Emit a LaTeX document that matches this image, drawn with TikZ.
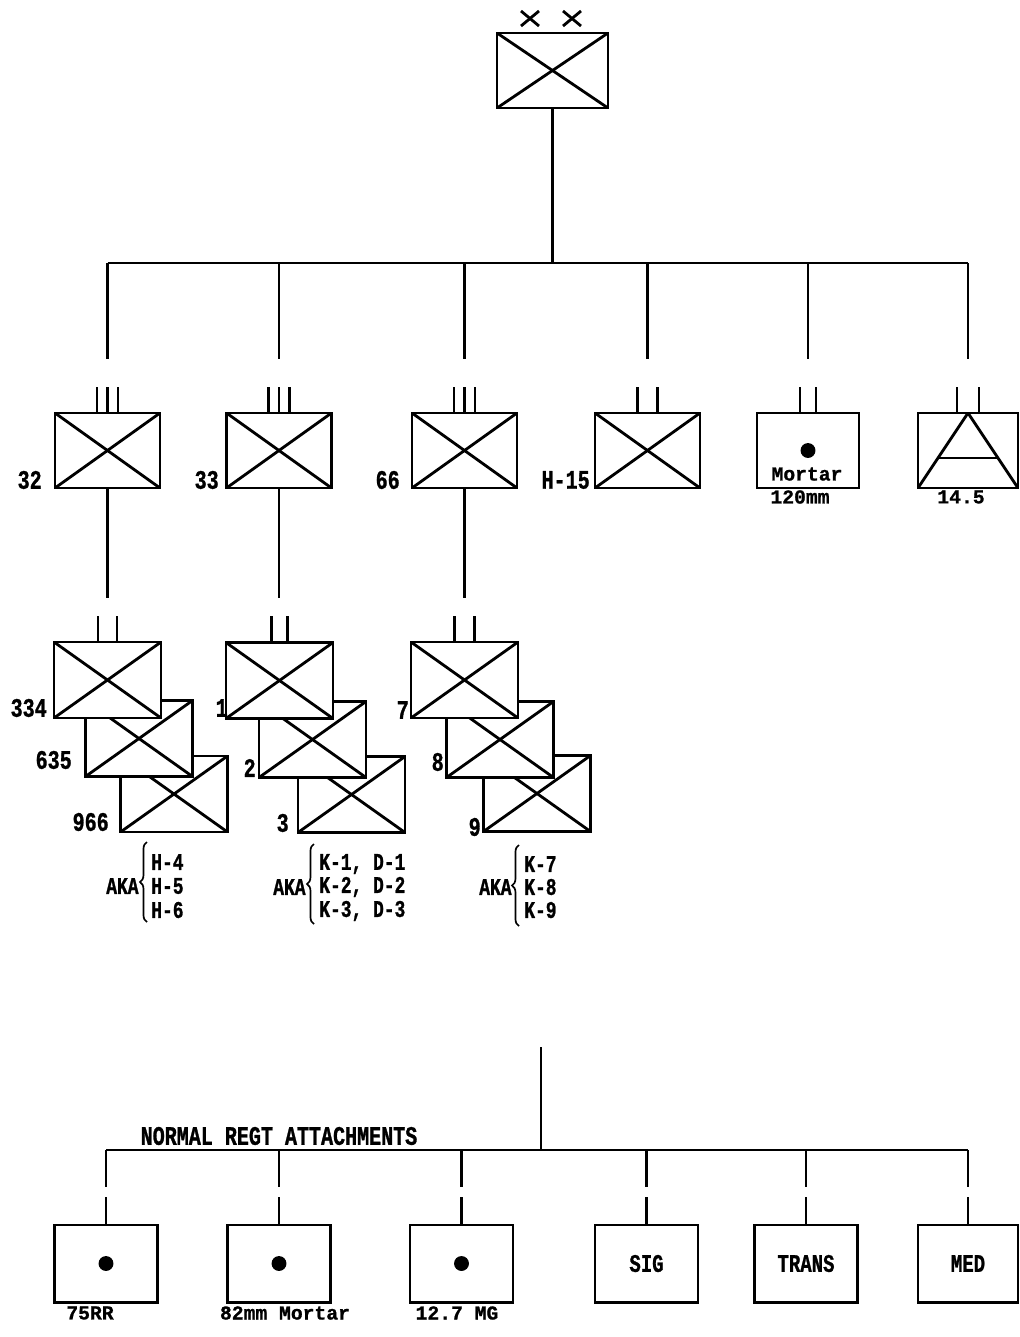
\documentclass[tikz,border=0pt]{standalone}
\usepackage{fontspec}
\newfontfamily\tallfont{Liberation Mono}[FakeStretch=0.75, BoldFeatures={FakeBold=1}]
\newfontfamily\typefont{Liberation Mono}[BoldFeatures={FakeBold=1}]
\usepackage{tikz}
\usetikzlibrary{calc}
\usetikzlibrary{decorations.pathreplacing}

\tikzset{
    unitbox/.style={draw, rectangle, line width=2.1pt, inner sep=0pt, fill=white},
    crossed/.style={path picture={
        \draw[line width=2pt] (path picture bounding box.north west) -- (path picture bounding box.south east);
        \draw[line width=2pt] (path picture bounding box.south west) -- (path picture bounding box.north east);}},
    gun/.style={path picture={\fill[black] (path picture bounding box.center) circle (5.3pt);}},
    aa/.style={path picture={
        \draw[line width=2pt] (path picture bounding box.south west) -- (path picture bounding box.north) -- (path picture bounding box.south east);
        \draw[line width=2pt] ($(path picture bounding box.north)!0.6!(path picture bounding box.south west)$) -- ($(path picture bounding box.north)!0.6!(path picture bounding box.south east)$);}},
    div/.style={unitbox, crossed, minimum width=2.775cm, minimum height=1.875cm},
    regt/.style={unitbox, minimum width=2.625cm, minimum height=1.875cm},
    bn/.style={unitbox, crossed, minimum width=2.675cm, minimum height=1.9cm},
    att/.style={unitbox, minimum width=2.575cm, minimum height=1.925cm, font=\tallfont\bfseries\fontsize{18}{18}\selectfont},
    link/.style={line width=1.8pt},
    echelon/.style={line width=2pt},
    akabrace/.style={decorate, decoration={brace, amplitude=5pt}, line width=1.2pt},
    numlbl/.style={font=\tallfont\bfseries\fontsize{19}{19}\selectfont, inner sep=0pt, anchor=east},
    akalbl/.style={font=\tallfont\bfseries\fontsize{17}{17}\selectfont, inner sep=0pt, anchor=west},
    smlbl/.style={font=\typefont\bfseries\fontsize{14}{14}\selectfont, inner sep=0pt}
}

\begin{document}
\begin{tikzpicture}[x=0.025cm, y=-0.025cm]
        \useasboundingbox (0,0) rectangle (1020,1337);
        \fill[white] (0,0) rectangle (1020,1337);

        % division
        \draw (552.5,70.5) node [div] (div) {};
        \foreach \cx in {530,572} {
            \draw[echelon] (\cx-9,11) -- (\cx+9,26);
            \draw[echelon] (\cx-9,26) -- (\cx+9,11);
        }

        % regiments
        \draw (107.5,450.5) node [regt, crossed] (r32) {};
        \draw (279,450.5) node [regt, crossed] (r33) {};
        \draw (464.5,450.5) node [regt, crossed] (r66) {};
        \draw (647.5,450.5) node [regt, crossed] (rh15) {};
        \draw (808,450.5) node [regt, gun, minimum width=2.55cm] (rmor) {};
        \draw (968,450.5) node [regt, aa, minimum width=2.5cm] (raa) {};

        \draw (42,480) node [numlbl] (l32) {32};
        \draw (219,480) node [numlbl] (l33) {33};
        \draw (400,480) node [numlbl] (l66) {66};
        \draw (590,480) node [numlbl] (lh15) {H-15};
        \draw (807,474) node [smlbl] (lmor) {Mortar};
        \draw (800,497) node [smlbl] (l120) {120mm};
        \draw (961,497) node [smlbl] (laa) {14.5};

        \coordinate (bar) at (552.5,263);
        \draw[link] (div.south) -- (bar);
        \draw[link] (r32.north |- bar) -- (raa.north |- bar);
        \foreach \u in {r32,r33,r66,rh15,rmor,raa}
            \draw[link] (\u.north |- bar) -- ($(\u.north)+(0,-53)$);

        % battalions, back to front
        \draw (174,794) node [bn] (b966) {};
        \draw (139,738.5) node [bn] (b635) {};
        \draw (107.5,680) node [bn] (b334) {};
        \draw (351.5,794.5) node [bn] (b3) {};
        \draw (312.5,739.5) node [bn] (b2) {};
        \draw (279.5,680.5) node [bn] (b1) {};
        \draw (537,793.5) node [bn] (b9) {};
        \draw (500,739.5) node [bn] (b8) {};
        \draw (464.5,680) node [bn] (b7) {};

        \draw (47,708) node [numlbl] (l334) {334};
        \draw (72,760) node [numlbl] (l635) {635};
        \draw (109,822) node [numlbl] (l966) {966};
        \draw (228,708) node [numlbl] (l1) {1};
        \draw (256,768) node [numlbl] (l2) {2};
        \draw (289,823) node [numlbl] (l3) {3};
        \draw (409,710) node [numlbl] (l7) {7};
        \draw (444,762) node [numlbl] (l8) {8};
        \draw (481,827) node [numlbl] (l9) {9};

        \draw[link] (r32.south) -- ($(r32.south |- b334.north)+(0,-43)$);
        \draw[link] (r33.south) -- ($(r33.south |- b1.north)+(0,-43)$);
        \draw[link] (r66.south) -- ($(r66.south |- b7.north)+(0,-43)$);

        % unit size ticks
        \foreach \u in {r32,r33,r66}
            \foreach \dx in {-10.5,0,10.5}
                \draw[echelon] ($(\u.north)+(\dx,0)$) -- ++(0,-25);
        \foreach \u/\dx in {rh15/10,rmor/8,raa/11,b334/9.5,b1/8,b7/10}
            \foreach \s in {-1,1}
                \draw[echelon] ($(\u.north)+(\s*\dx,0)$) -- ++(0,-25);

        % also known as
        \draw (106,886) node [akalbl] (aka1) {AKA};
        \draw[akabrace] (147,922) -- (147,842);
        \draw (151,862) node [akalbl] (h4) {H-4};
        \draw (151,886) node [akalbl] (h5) {H-5};
        \draw (151,910) node [akalbl] (h6) {H-6};
        \draw (273,887) node [akalbl] (aka2) {AKA};
        \draw[akabrace] (314,924) -- (314,844);
        \draw (319,864) node [akalbl] (k1) {K-1, D-1};
        \draw (319,887) node [akalbl] (k2) {K-2, D-2};
        \draw (319,911) node [akalbl] (k3) {K-3, D-3};
        \draw (479,887) node [akalbl] (aka3) {AKA};
        \draw[akabrace] (519,926) -- (519,845);
        \draw (524,864) node [akalbl] (k7) {K-7};
        \draw (524,887) node [akalbl] (k8) {K-8};
        \draw (524,910) node [akalbl] (k9) {K-9};

        % attachments
        \coordinate (atttop) at (541,1047);
        \coordinate (attbar) at (541,1150);
        \draw[link] (atttop) -- (attbar);
        \draw (279,1136) node [numlbl, anchor=center] (attname) {NORMAL REGT ATTACHMENTS};

        \draw (106,1263.5) node [att, gun] (a75) {};
        \draw (279,1263.5) node [att, gun] (a82) {};
        \draw (461.5,1263.5) node [att, gun] (a127) {};
        \draw (646.5,1263.5) node [att] (asig) {SIG};
        \draw (806,1263.5) node [att] (atrans) {TRANS};
        \draw (968,1263.5) node [att, minimum width=2.5cm] (amed) {MED};

        \draw (90,1313) node [smlbl] (l75) {75RR};
        \draw (285,1313) node [smlbl] (l82) {82mm Mortar};
        \draw (457,1313) node [smlbl] (l127) {12.7 MG};

        \draw[link] (a75.north |- attbar) -- (amed.north |- attbar);
        \foreach \u in {a75,a82,a127,asig,atrans,amed} {
            \draw[link] (\u.north |- attbar) -- ++(0,37);
            \draw[link] (\u.north) -- ++(0,-27);
        }
\end{tikzpicture}
\end{document}
